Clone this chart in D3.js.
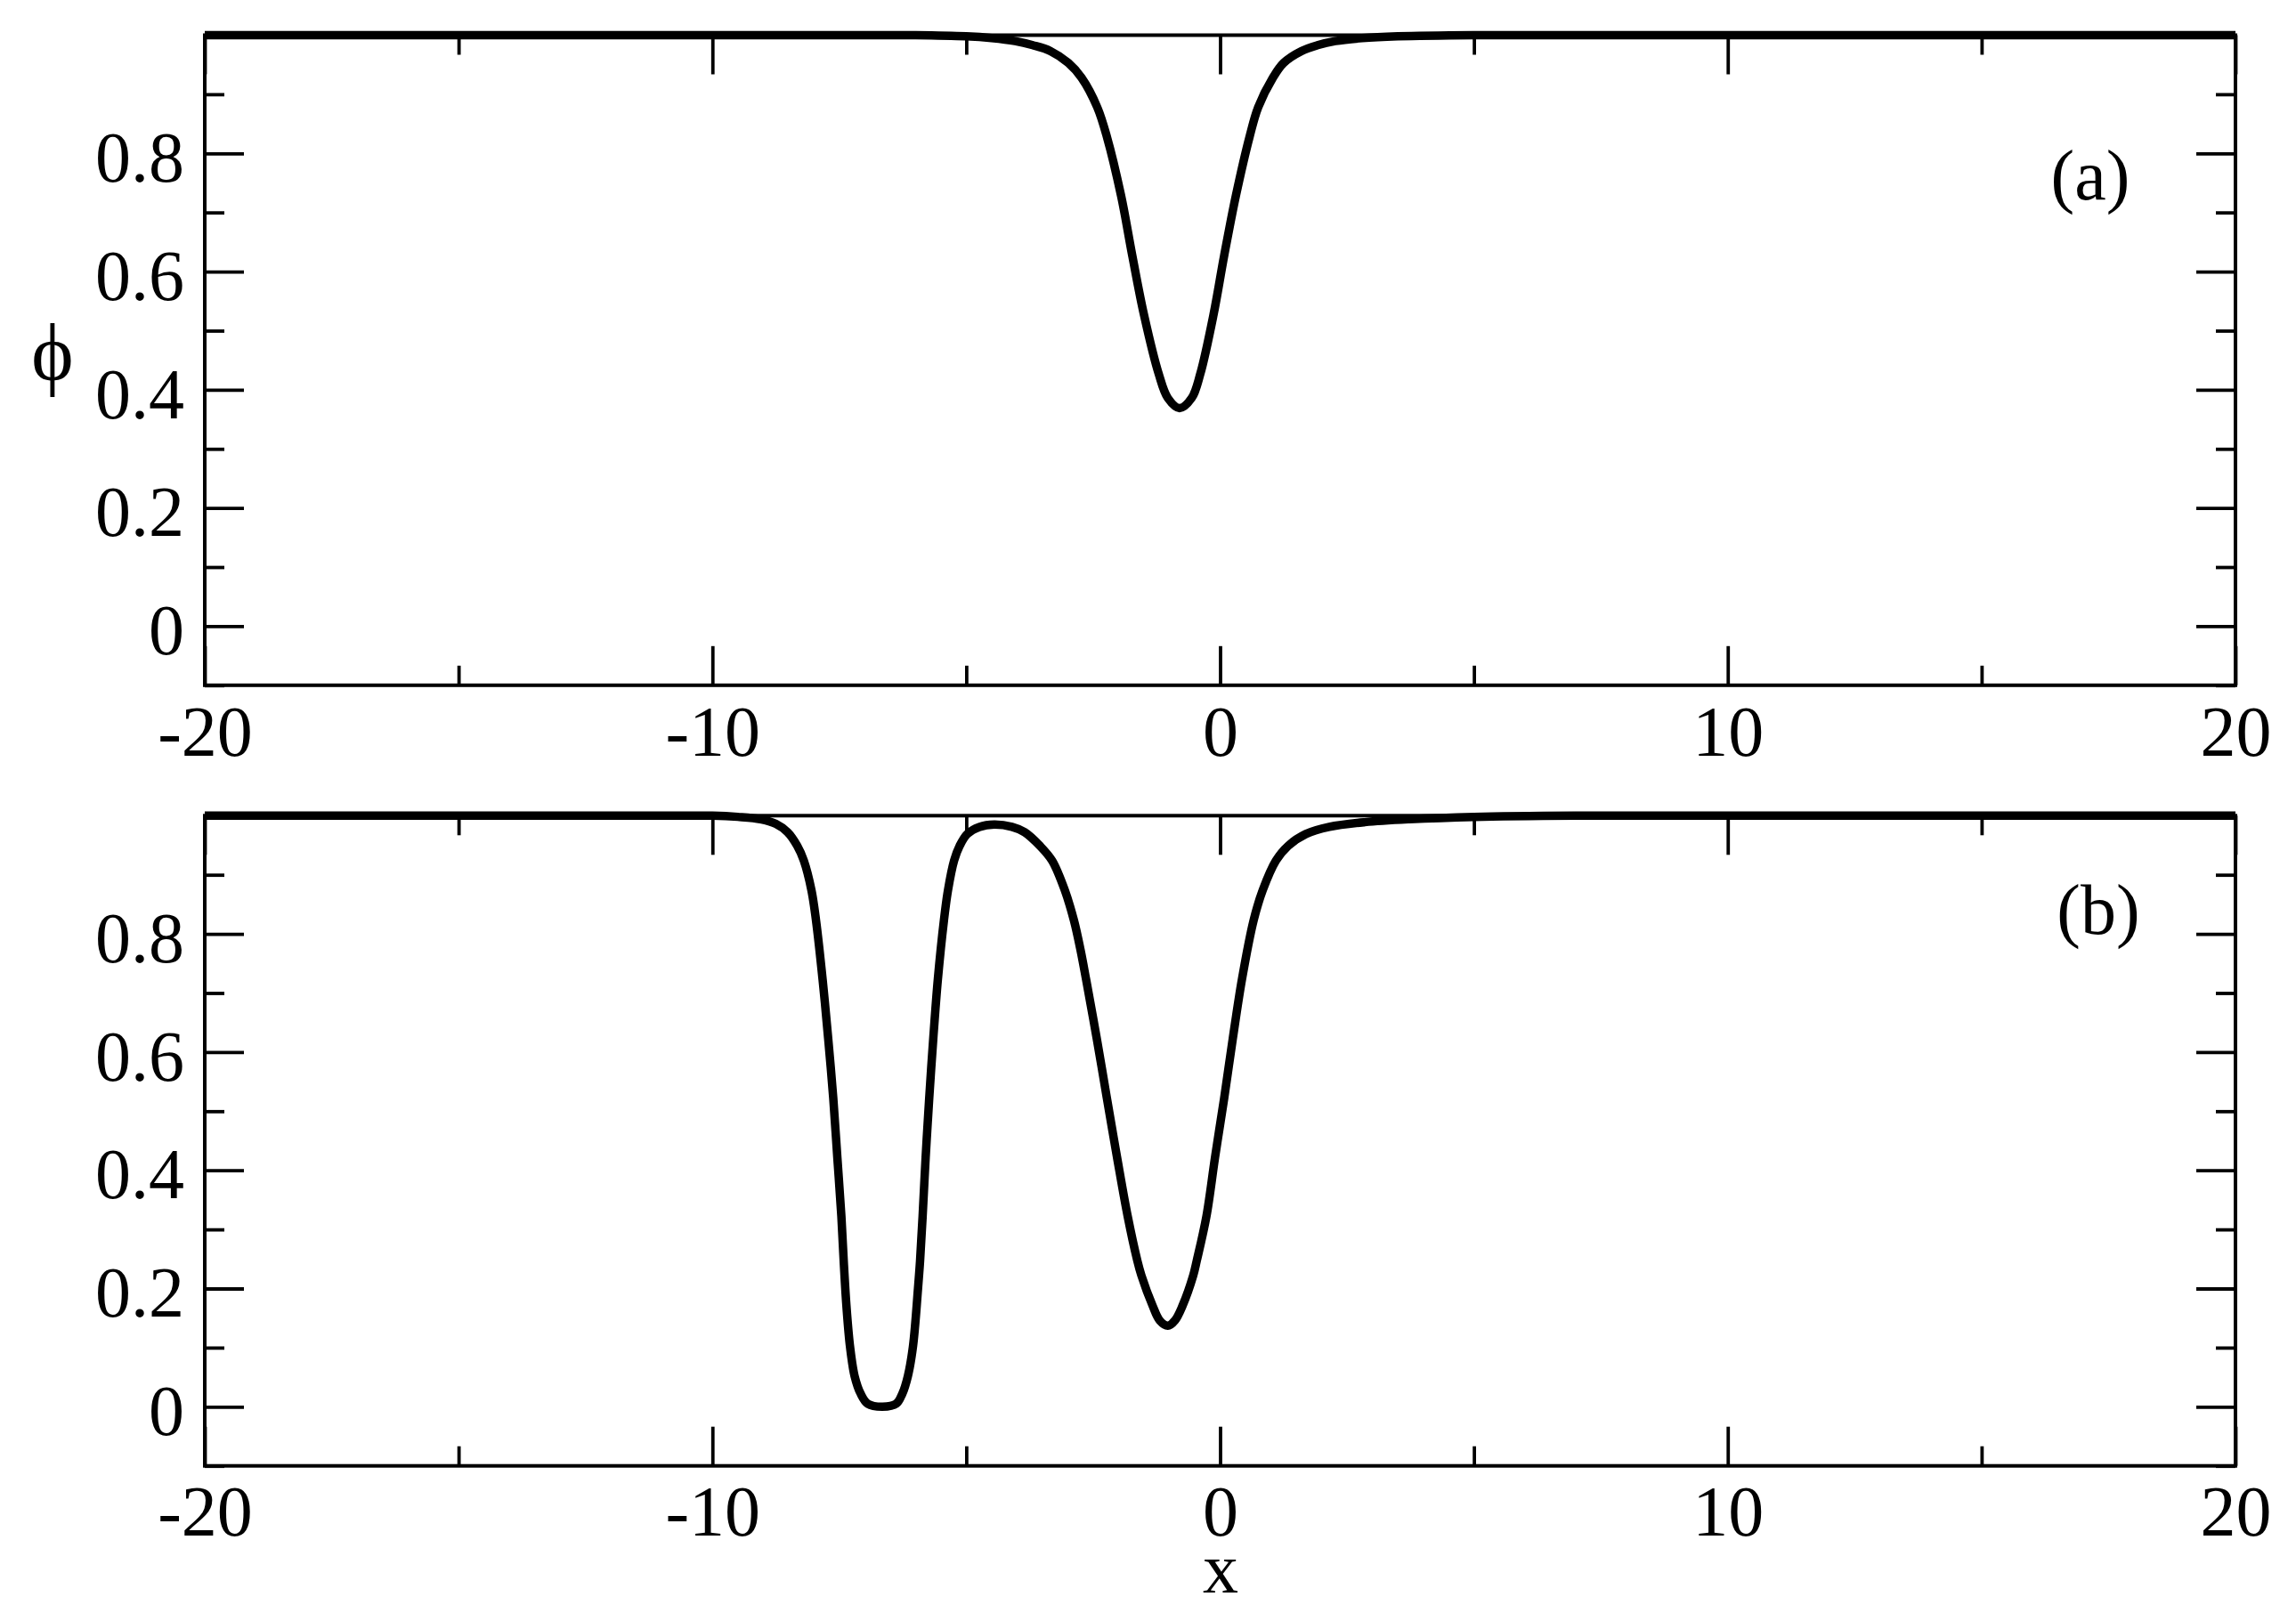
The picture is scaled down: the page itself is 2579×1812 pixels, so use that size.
<!DOCTYPE html>
<html>
<head>
<meta charset="utf-8">
<script src="https://cdn.jsdelivr.net/npm/d3@7"></script>
<style>
  body { margin: 0; background: #fff; }
  text { font-family: "Liberation Serif", "Times New Roman", serif; fill: #000; }
</style>
</head>
<body>
<div id="chart"></div>
<script>
// panel (a): single dip
var xA = [-20, -10, -7, -6, -5, -4.5, -4.04, -3.69, -3.34, -2.99, -2.73, -2.42, -2.23, -1.95, -1.73, -1.5, -1.21, -1.03, -0.8, -0.56, -0.39, -0.13, 0.08, 0.31, 0.58, 0.75, 1.04, 1.25, 1.6, 1.92, 2.27, 2.8, 3.5, 5, 7, 10, 20];
var phiA = [1, 1, 1, 1, 0.998, 0.995, 0.99, 0.983, 0.973, 0.953, 0.928, 0.878, 0.828, 0.728, 0.627, 0.527, 0.427, 0.386, 0.369, 0.386, 0.427, 0.527, 0.627, 0.728, 0.828, 0.878, 0.928, 0.953, 0.973, 0.983, 0.99, 0.995, 0.998, 1, 1, 1, 1];

// panel (b): narrow flat dip + wide dip
var xB = [-20, -14, -11, -10, -9.5, -9.05, -8.75, -8.52, -8.33, -8.2, -8.05, -7.96, -7.83, -7.72, -7.62, -7.54, -7.46, -7.41, -7.36, -7.29, -7.2, -7.08, -6.94, -6.65, -6.38, -6.26, -6.15, -6.05, -5.95, -5.91, -5.86, -5.8, -5.73, -5.65, -5.56, -5.44, -5.36, -5.24, -5.13, -4.98, -4.74, -4.45, -4.1, -3.85, -3.55, -3.31, -3.06, -2.88, -2.75, -2.64, -2.43, -2.23, -2.03, -1.82, -1.63, -1.55, -1.33, -1.19, -1.03, -0.89, -0.74, -0.53, -0.46, -0.27, -0.1, 0.08, 0.25, 0.43, 0.66, 0.84, 1.1, 1.34, 1.69, 2.15, 2.85, 3.73, 5, 7, 10, 20];
var phiB = [1, 1, 1, 1, 0.998, 0.994, 0.986, 0.972, 0.949, 0.924, 0.874, 0.823, 0.723, 0.623, 0.522, 0.422, 0.322, 0.24, 0.17, 0.102, 0.052, 0.022, 0.005, 0, 0.005, 0.022, 0.052, 0.102, 0.201, 0.247, 0.322, 0.422, 0.522, 0.623, 0.723, 0.823, 0.874, 0.924, 0.949, 0.969, 0.981, 0.985, 0.981, 0.972, 0.949, 0.924, 0.874, 0.823, 0.773, 0.723, 0.623, 0.522, 0.422, 0.322, 0.247, 0.222, 0.171, 0.146, 0.137, 0.146, 0.171, 0.222, 0.247, 0.322, 0.422, 0.522, 0.623, 0.723, 0.823, 0.874, 0.924, 0.949, 0.969, 0.981, 0.989, 0.994, 0.998, 1, 1, 1];

var xTicks = [-20, -10, 0, 10, 20];
var xTickLabels = ["-20", "-10", "0", "10", "20"];
var xMinor = [-15, -5, 5, 15];
var yTicks = [0, 0.2, 0.4, 0.6, 0.8, 1.0];
var yTickLabels = ["0", "0.2", "0.4", "0.6", "0.8", ""];
var yMinor = [-0.1, 0.1, 0.3, 0.5, 0.7, 0.9];

var width = 2579, height = 1812;
var left = 230, right = 2511;
var panels = [
  {top: 39.5, bottom: 769.8, xs: xA, ys: phiA, tag: "(a)", tagX: 2348, tagY: 224},
  {top: 916.3, bottom: 1646.7, xs: xB, ys: phiB, tag: "(b)", tagX: 2357, tagY: 1049}
];

var svg = d3.select("#chart").append("svg").attr("width", width).attr("height", height);
svg.append("rect").attr("width", width).attr("height", height).attr("fill", "#fff");

var x = d3.scaleLinear().domain([-20, 20]).range([left, right]);

panels.forEach(function(p) {
  var y = d3.scaleLinear().domain([-0.1, 1.0]).range([p.bottom, p.top]);
  var g = svg.append("g");

  // major + minor ticks, all four sides, pointing in
  function styleAxis(sel) {
    sel.select(".domain").remove();
    sel.selectAll("line").attr("stroke", "#000").attr("stroke-width", 3.8);
  }
  g.append("g").attr("transform", "translate(0," + p.bottom + ")")
    .call(d3.axisBottom(x).tickValues(xTicks).tickSize(-44).tickSizeOuter(0).tickPadding(22)
      .tickFormat(function(d, i) { return xTickLabels[i]; }))
    .call(styleAxis)
    .selectAll("text").attr("font-size", 80).attr("font-family", "Liberation Serif, serif");
  g.append("g").attr("transform", "translate(0," + p.bottom + ")")
    .call(d3.axisBottom(x).tickValues(xMinor).tickSize(-22).tickSizeOuter(0).tickFormat(""))
    .call(styleAxis);
  g.append("g").attr("transform", "translate(0," + p.top + ")")
    .call(d3.axisTop(x).tickValues(xTicks).tickSize(-44).tickSizeOuter(0).tickFormat(""))
    .call(styleAxis);
  g.append("g").attr("transform", "translate(0," + p.top + ")")
    .call(d3.axisTop(x).tickValues(xMinor).tickSize(-22).tickSizeOuter(0).tickFormat(""))
    .call(styleAxis);

  g.append("g").attr("transform", "translate(" + left + ",0)")
    .call(d3.axisLeft(y).tickValues(yTicks).tickSize(-44).tickSizeOuter(0).tickPadding(23)
      .tickFormat(function(d, i) { return yTickLabels[i]; }))
    .call(styleAxis)
    .selectAll("text").attr("font-size", 80).attr("dy", "0.39em").attr("font-family", "Liberation Serif, serif");
  g.append("g").attr("transform", "translate(" + left + ",0)")
    .call(d3.axisLeft(y).tickValues(yMinor).tickSize(-22).tickSizeOuter(0).tickFormat(""))
    .call(styleAxis);
  g.append("g").attr("transform", "translate(" + right + ",0)")
    .call(d3.axisRight(y).tickValues(yTicks).tickSize(-44).tickSizeOuter(0).tickFormat(""))
    .call(styleAxis);
  g.append("g").attr("transform", "translate(" + right + ",0)")
    .call(d3.axisRight(y).tickValues(yMinor).tickSize(-22).tickSizeOuter(0).tickFormat(""))
    .call(styleAxis);

  // frame
  g.append("rect").attr("x", left).attr("y", p.top).attr("width", right - left).attr("height", p.bottom - p.top)
    .attr("fill", "none").attr("stroke", "#000").attr("stroke-width", 4);

  var line = d3.line()
    .x(function(d, i) { return x(p.xs[i]); })
    .y(function(d, i) { return y(p.ys[i]); })
    .curve(d3.curveCatmullRom.alpha(0.5));
  g.append("path").attr("d", line(p.xs))
    .attr("fill", "none").attr("stroke", "#000").attr("stroke-width", 9.5).attr("stroke-linejoin", "round");

  g.append("text").attr("x", p.tagX).attr("y", p.tagY).attr("text-anchor", "middle")
    .attr("font-size", 80).text(p.tag);
});

// axis titles
svg.append("text").attr("x", 59).attr("y", 427).attr("text-anchor", "middle")
  .attr("font-size", 90).text("\u03D5");
svg.append("text").attr("x", 1371).attr("y", 1789).attr("text-anchor", "middle")
  .attr("font-size", 80).text("x");
</script>
</body>
</html>
